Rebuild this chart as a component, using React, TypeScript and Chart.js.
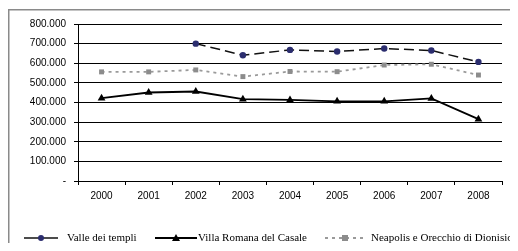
import React, { useEffect, useRef } from "react";
import { Chart, registerables } from "chart.js";

Chart.register(...registerables);

const years = ["2000", "2001", "2002", "2003", "2004", "2005", "2006", "2007", "2008"];
const valleDeiTempli = [null, null, 700000, 641000, 668000, 660000, 675000, 665000, 607000];
const villaRomana = [422000, 451000, 456000, 417000, 413000, 406000, 406000, 421000, 315000];
const neapolis = [556000, 556000, 566000, 532000, 558000, 557000, 591000, 595000, 540000];
const seriesNames = ["Valle dei templi", "Villa Romana del Casale", "Neapolis e Orecchio di Dionisio"];

const fmt = (v: number) => {
  if (v === 0) return "-";
  return Math.round(v).toString().replace(/\B(?=(\d{3})+(?!\d))/g, ".");
};

const frameAndLegend = {
  id: "frameAndLegend",
  afterDraw(chart: any) {
    const ctx = chart.ctx as CanvasRenderingContext2D;
    ctx.save();
    ctx.strokeStyle = "#8a8a8a";
    ctx.lineWidth = 1.5;
    ctx.beginPath();
    ctx.moveTo(0.75, chart.height + 5);
    ctx.lineTo(0.75, 1.75);
    ctx.lineTo(chart.width + 5, 1.75);
    ctx.stroke();

    const y = 230;
    const items = [
      { x0: 16, x1: 50, tx: 59 },
      { x0: 147, x1: 189, tx: 190 },
      { x0: 317, x1: 357, tx: 363 },
    ];
    chart.data.datasets.forEach((ds: any, i: number) => {
      const it = items[i];
      ctx.save();
      ctx.strokeStyle = ds.borderColor;
      ctx.lineWidth = ds.borderWidth;
      ctx.setLineDash(i === 2 ? [3, 4] : []);
      ctx.beginPath();
      ctx.moveTo(it.x0, y);
      ctx.lineTo(it.x1, y);
      ctx.stroke();
      ctx.setLineDash([]);
      const cx = (it.x0 + it.x1) / 2;
      ctx.fillStyle = ds.pointBackgroundColor;
      if (ds.pointStyle === "circle") {
        ctx.beginPath();
        ctx.arc(cx, y, 3, 0, Math.PI * 2);
        ctx.fill();
      } else if (ds.pointStyle === "triangle") {
        ctx.beginPath();
        ctx.moveTo(cx, y - 4);
        ctx.lineTo(cx + 4, y + 3);
        ctx.lineTo(cx - 4, y + 3);
        ctx.closePath();
        ctx.fill();
      } else {
        ctx.fillRect(cx - 3, y - 3, 6, 6);
      }
      ctx.restore();
      ctx.fillStyle = "#000";
      ctx.font = "11px 'Liberation Serif', 'Times New Roman', serif";
      ctx.textBaseline = "middle";
      ctx.textAlign = "left";
      ctx.fillText(ds.label, it.tx, y + 0.5);
    });
    ctx.restore();
  },
};

export default function App() {
  const ref = useRef<HTMLCanvasElement>(null);
  useEffect(() => {
    if (!ref.current) return;
    const chart = new Chart(ref.current, {
      type: "line",
      data: {
        labels: years,
        datasets: [
          {
            label: seriesNames[0],
            data: valleDeiTempli,
            borderColor: "#111111",
            borderWidth: 1.5,
            borderDash: [10, 5],
            pointStyle: "circle",
            pointRadius: 3.2,
            pointBackgroundColor: "#2b2d6e",
            pointBorderColor: "#2b2d6e",
            pointBorderWidth: 0,
            spanGaps: false,
          },
          {
            label: seriesNames[1],
            data: villaRomana,
            borderColor: "#000000",
            borderWidth: 1.8,
            pointStyle: "triangle",
            pointRadius: 4.5,
            pointBackgroundColor: "#000000",
            pointBorderColor: "#000000",
            pointBorderWidth: 0,
          },
          {
            label: seriesNames[2],
            data: neapolis,
            borderColor: "#9a9a9a",
            borderWidth: 1.8,
            borderDash: [3, 4],
            pointStyle: "rect",
            pointRadius: 3.5,
            pointBackgroundColor: "#8c8c8c",
            pointBorderColor: "#8c8c8c",
            pointBorderWidth: 0,
          },
        ],
      },
      options: {
        animation: false,
        responsive: false,
        layout: { padding: { left: 0, right: 16, top: 16, bottom: 0 } },
        plugins: { legend: { display: false }, tooltip: { enabled: false } },
        scales: {
          x: {
            offset: true,
            grid: {
              offset: true,
              drawOnChartArea: false,
              drawTicks: true,
              tickLength: 4,
              color: "#000",
            },
            border: { color: "#000", width: 1 },
            ticks: {
              color: "#000",
              font: { family: "'Liberation Sans', Arial, sans-serif", size: 10 },
              padding: 5,
              maxRotation: 0,
            },
            afterFit: (s: any) => {
              s.height = 70;
            },
          },
          y: {
            min: 0,
            max: 800000,
            grid: { color: "#000", lineWidth: 1, tickLength: 4, drawTicks: true },
            border: { color: "#000", width: 1 },
            ticks: {
              stepSize: 100000,
              color: "#000",
              padding: 8,
              font: { family: "'Liberation Sans', Arial, sans-serif", size: 10 },
              callback: (v: any) => fmt(Number(v)),
            },
            afterFit: (s: any) => {
              s.width = 70;
            },
          },
        },
      },
      plugins: [frameAndLegend],
    });
    return () => chart.destroy();
  }, []);
  return (
    <canvas
      ref={ref}
      width={510}
      height={243}
      style={{ display: "block", marginBottom: -8 }}
    />
  );
}
